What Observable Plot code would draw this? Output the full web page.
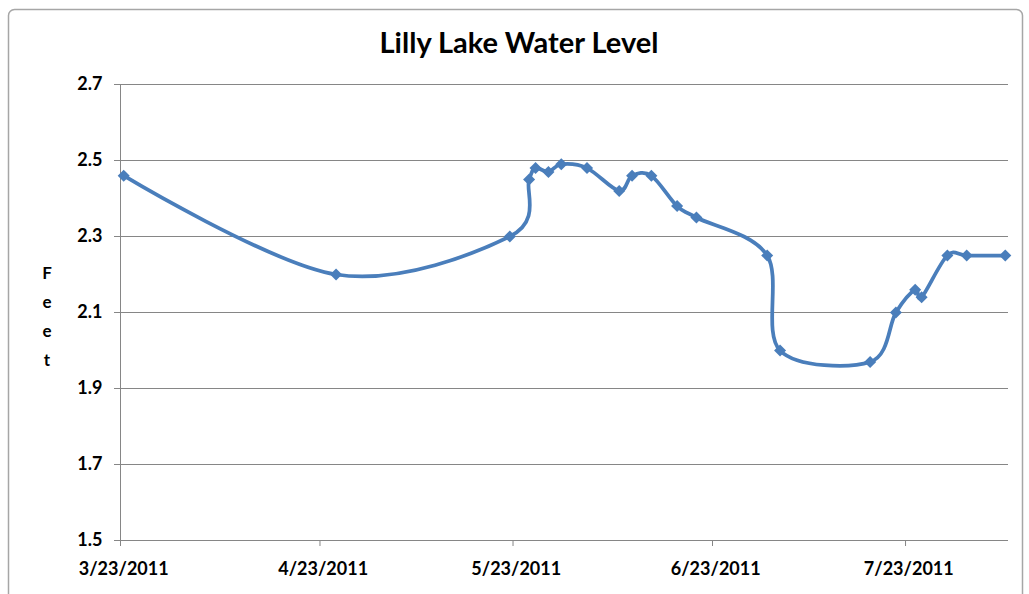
<!DOCTYPE html>
<html>
<head>
<meta charset="utf-8">
<script src="https://cdn.jsdelivr.net/npm/d3@7"></script>
<script src="https://cdn.jsdelivr.net/npm/@observablehq/plot@0.6"></script>
<style>
  html, body { margin: 0; padding: 0; background: #fff; }
  #chart { width: 1029px; height: 594px; overflow: hidden; }
</style>
</head>
<body>
<div id="chart"></div>
<script>
// ---- data ----
const dates = ["2011-03-23","2011-04-25","2011-05-22","2011-05-25","2011-05-26","2011-05-28","2011-05-30","2011-06-03","2011-06-08","2011-06-10","2011-06-13","2011-06-17","2011-06-20","2011-07-01","2011-07-03","2011-07-17","2011-07-21","2011-07-24","2011-07-25","2011-07-29","2011-08-01","2011-08-07"];
const levels = [2.46,2.20,2.30,2.45,2.48,2.47,2.49,2.48,2.42,2.46,2.46,2.38,2.35,2.25,2.00,1.97,2.10,2.16,2.14,2.25,2.25,2.25];
const xTickDates = ["2011-03-23","2011-04-23","2011-05-23","2011-06-23","2011-07-23"];
const yTickValues = [1.5,1.7,1.9,2.1,2.3,2.5,2.7];
const axisStart = "2011-03-23";
const axisEnd = "2011-08-08";
const titleText = "Lilly Lake Water Level";
const yTitle = "Feet";

// Excel date axis "between tick marks": each day is a slot, point sits at its centre
const data = dates.map((d, i) => ({date: new Date(d + "T12:00:00Z"), level: levels[i]}));
const xTicks = xTickDates.map(d => new Date(d + "T00:00:00Z"));
const fmt = d => `${d.getUTCMonth() + 1}/${d.getUTCDate()}/${d.getUTCFullYear()}`;

const gray = "#868686";
const blue = "#4a7ebb";
const font = "Lato, 'Open Sans', sans-serif";

const chart = Plot.plot({
  width: 1029,
  height: 594,
  marginLeft: 120,
  marginRight: 21,
  marginTop: 84,
  marginBottom: 54,
  style: {fontFamily: font, fontWeight: "bold", fontSize: "18px", color: "#000", background: "transparent", overflow: "visible"},
  x: {type: "utc", domain: [new Date(axisStart + "T00:00:00Z"), new Date(axisEnd + "T00:00:00Z")]},
  y: {domain: [1.5, 2.7]},
  marks: [
    Plot.gridY(yTickValues, {stroke: gray, strokeOpacity: 1, strokeWidth: 1}),
    Plot.ruleX([new Date(axisStart + "T00:00:00Z")], {stroke: gray, strokeWidth: 1}),
    Plot.axisY(yTickValues, {tickSize: 6, tickPadding: 12, tickFormat: d => d.toFixed(1), stroke: gray, fill: "#000", label: null}),
    Plot.axisX(xTicks, {tickSize: 6, tickPadding: 22, tickFormat: () => "", stroke: gray, label: null}),
    // labels sit centred on the day slot (half a day right of the tick)
    Plot.axisX(xTicks.map(d => new Date(+d + 12 * 3600e3)), {tickSize: 0, tickPadding: 22, tickFormat: fmt, fill: "#000", label: null}),
    Plot.line(data, {x: "date", y: "level", curve: "cardinal", tension: 0, stroke: blue, strokeWidth: 3.75}),
    Plot.dot(data, {x: "date", y: "level", symbol: "square", r: 4.8, rotate: 45, fill: blue, stroke: "none"})
  ]
});

document.getElementById("chart").appendChild(chart);

const svg = d3.select(chart);
// outer chart border
svg.insert("rect", ":first-child")
  .attr("x", 8.5).attr("y", 9.5).attr("width", 1014).attr("height", 620)
  .attr("rx", 6).attr("fill", "none").attr("stroke", "#a6a6a6").attr("stroke-width", 1.5);
// title
svg.append("text")
  .attr("x", 519).attr("y", 53)
  .attr("text-anchor", "middle")
  .attr("font-family", font)
  .attr("font-weight", "bold").attr("font-size", 29)
  .attr("fill", "#000")
  .text(titleText);
// stacked y-axis title
const ys = [273, 302, 331, 360];
const yt = svg.append("text")
  .attr("font-family", font)
  .attr("font-weight", "bold").attr("font-size", 17)
  .attr("text-anchor", "middle").attr("fill", "#000");
yTitle.split("").forEach((ch, i) => {
  yt.append("tspan").attr("x", 47).attr("y", ys[i]).attr("dy", "0.35em").text(ch);
});
</script>
</body>
</html>
